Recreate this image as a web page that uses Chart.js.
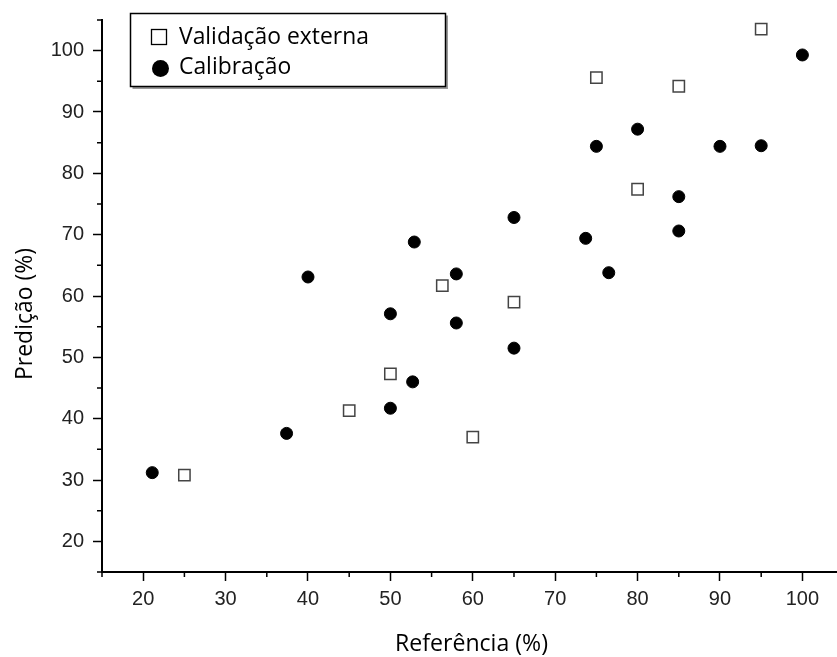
<!DOCTYPE html>
<html>
<head>
<meta charset="utf-8">
<script src="https://cdn.jsdelivr.net/npm/chart.js@4"></script>
<style>
  html, body { margin: 0; padding: 0; background: #fff; }
  #wrap { width: 837px; height: 657px; }
</style>
</head>
<body>
<div id="wrap"><canvas id="c" width="837" height="657"></canvas></div>
<script>
const seriesNames = ["Validação externa", "Calibração"];
const axisTitles = { x: "Referência (%)", y: "Predição (%)" };

const validacaoX = [25, 45, 50, 56.3, 60, 65, 75, 80, 85, 95];
const validacaoY = [30.8, 41.3, 47.3, 61.7, 37.0, 59.0, 95.6, 77.4, 94.2, 103.5];

const calibracaoX = [21.1, 37.4, 40, 50, 50, 52.7, 52.9, 58, 58, 65, 65, 73.7, 75, 76.5, 80, 85, 85, 90, 95, 100];
const calibracaoY = [31.2, 37.6, 63.1, 57.1, 41.7, 46.0, 68.8, 63.6, 55.6, 72.8, 51.5, 69.4, 84.4, 63.8, 87.2, 76.2, 70.6, 84.4, 84.5, 99.3];

const xMin = 15, xMax = 104.2, yMin = 15, yMax = 105;
const majorStep = 10, minorStep = 5;

const toPoints = (xs, ys) => xs.map((x, i) => ({ x: x, y: ys[i] }));

const textFont = '"Open Sans", sans-serif';

function fitSize(ctx, text, target) {
  ctx.font = '100px ' + textFont;
  return 100 * target / ctx.measureText(text).width;
}

const overlayPlugin = {
  id: 'overlay',
  afterDraw(chart) {
    const ctx = chart.ctx;
    const xs = chart.scales.x, ys = chart.scales.y;
    ctx.save();
    // minor ticks
    ctx.strokeStyle = '#000';
    ctx.lineWidth = 1.5;
    ctx.beginPath();
    xs.ticks.forEach(t => {
      if (t.value % majorStep !== 0) {
        const px = xs.getPixelForValue(t.value);
        ctx.moveTo(px, xs.top);
        ctx.lineTo(px, xs.top + 5);
      }
    });
    ys.ticks.forEach(t => {
      if (t.value % majorStep !== 0) {
        const py = ys.getPixelForValue(t.value);
        ctx.moveTo(ys.right, py);
        ctx.lineTo(ys.right - 5, py);
      }
    });
    ctx.stroke();

    // axis titles
    ctx.fillStyle = '#000';
    const sx = fitSize(ctx, axisTitles.x, 153);
    ctx.font = sx.toFixed(2) + 'px ' + textFont;
    ctx.textAlign = 'center';
    ctx.textBaseline = 'alphabetic';
    ctx.fillText(axisTitles.x, 471.5, 651);
    const sy = fitSize(ctx, axisTitles.y, 132);
    ctx.font = sy.toFixed(2) + 'px ' + textFont;
    ctx.save();
    ctx.translate(32, 314);
    ctx.rotate(-Math.PI / 2);
    ctx.fillText(axisTitles.y, 0, 0);
    ctx.restore();

    // legend box
    const bx = 130.5, by = 13.5, bw = 315, bh = 73;
    ctx.strokeStyle = '#999';
    ctx.lineWidth = 2;
    ctx.beginPath();
    ctx.moveTo(bx + 2, by + bh + 1.5);
    ctx.lineTo(bx + bw + 1.5, by + bh + 1.5);
    ctx.lineTo(bx + bw + 1.5, by + 2);
    ctx.stroke();
    ctx.fillStyle = '#fff';
    ctx.fillRect(bx, by, bw, bh);
    ctx.strokeStyle = '#000';
    ctx.lineWidth = 1.5;
    ctx.strokeRect(bx, by, bw, bh);

    const ds = chart.data.datasets;
    // square marker
    ctx.fillStyle = '#fff';
    ctx.strokeStyle = '#000';
    ctx.lineWidth = 1.3;
    ctx.fillRect(151.5, 29.5, 15, 15);
    ctx.strokeRect(151.5, 29.5, 15, 15);
    // circle marker
    ctx.fillStyle = '#000';
    ctx.beginPath();
    ctx.arc(160.5, 68.5, 8.5, 0, Math.PI * 2);
    ctx.fill();

    ctx.fillStyle = '#000';
    const sl = fitSize(ctx, ds[0].label, 190);
    ctx.font = sl.toFixed(2) + 'px ' + textFont;
    ctx.textAlign = 'left';
    ctx.textBaseline = 'alphabetic';
    ctx.fillText(ds[0].label, 179, 44);
    ctx.fillText(ds[1].label, 179, 74);
    ctx.restore();
  }
};

const tickColorFn = c => (c.tick && c.tick.value % majorStep === 0) ? '#000' : 'rgba(0,0,0,0)';
const labelFn = v => (v % majorStep === 0 ? String(v) : '');

new Chart(document.getElementById('c'), {
  type: 'scatter',
  data: {
    datasets: [
      {
        label: seriesNames[0],
        data: toPoints(validacaoX, validacaoY),
        pointStyle: 'rect',
        pointRadius: 8,
        pointHoverRadius: 8,
        backgroundColor: '#fff',
        borderColor: '#444',
        borderWidth: 1.5
      },
      {
        label: seriesNames[1],
        data: toPoints(calibracaoX, calibracaoY),
        pointStyle: 'circle',
        pointRadius: 6,
        pointHoverRadius: 6,
        backgroundColor: '#000',
        borderColor: '#000',
        borderWidth: 1
      }
    ]
  },
  options: {
    responsive: false,
    animation: false,
    devicePixelRatio: 1,
    layout: { autoPadding: false, padding: { top: 20, right: 0, left: 0, bottom: 0 } },
    plugins: { legend: { display: false }, tooltip: { enabled: false } },
    scales: {
      x: {
        type: 'linear',
        min: xMin, max: xMax,
        afterFit(s) { s.height = 85; s.paddingLeft = 0; s.paddingRight = 0; },
        border: { display: true, color: '#000', width: 2 },
        grid: { drawOnChartArea: false, drawTicks: true, tickLength: 9, tickColor: tickColorFn, tickWidth: 1.5 },
        ticks: {
          stepSize: minorStep, includeBounds: false, autoSkip: false, maxRotation: 0,
          callback: labelFn,
          color: '#222', padding: 6,
          font: { family: '"Liberation Sans", Arial, sans-serif', size: 20 }
        }
      },
      y: {
        type: 'linear',
        min: yMin, max: yMax,
        afterFit(s) { s.width = 102; s.paddingTop = 0; s.paddingBottom = 0; },
        border: { display: true, color: '#000', width: 2 },
        grid: { drawOnChartArea: false, drawTicks: true, tickLength: 9, tickColor: tickColorFn, tickWidth: 1.5 },
        ticks: {
          stepSize: minorStep, includeBounds: false, autoSkip: false,
          callback: labelFn,
          color: '#222', padding: 9,
          font: { family: '"Liberation Sans", Arial, sans-serif', size: 20 }
        }
      }
    }
  },
  plugins: [overlayPlugin]
});
</script>
</body>
</html>
